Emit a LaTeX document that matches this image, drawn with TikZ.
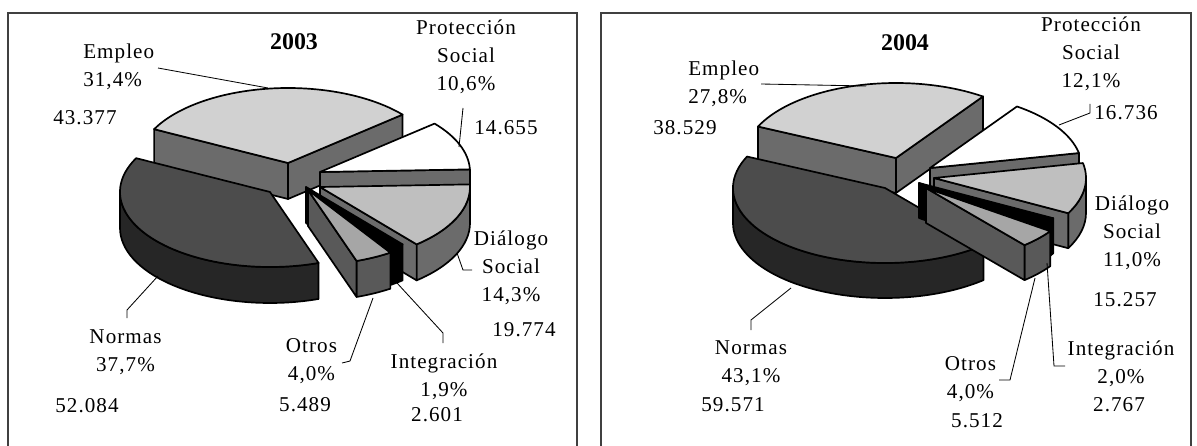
\documentclass[tikz,border=0pt]{standalone}
\usepackage{fontspec}
\setmainfont{Liberation Serif}
\newfontfamily\lblfont[LetterSpace=5]{Liberation Serif}
\usetikzlibrary{calc}

\definecolor{empTop}{gray}{0.82}
\definecolor{sideGray}{gray}{0.42}
\definecolor{normTop}{gray}{0.30}
\definecolor{normSide}{gray}{0.15}
\definecolor{dialTop}{gray}{0.75}
\definecolor{otrTop}{gray}{0.65}
\definecolor{otrSide}{gray}{0.35}
\definecolor{frameGray}{gray}{0.25}

\newcommand{\pierx}{150}
\newcommand{\piery}{75}
\newcommand{\pieh}{36}

% top face: apex, start, end, fill
\newcommand{\slicetop}[4]{%
  \filldraw[pie, fill=#4] (#1) -- ++({\pierx*cos(#2)},{\piery*sin(#2)})
    arc[start angle=#2, end angle=#3, x radius=\pierx, y radius=\piery] -- cycle;}
% cut face: apex, angle, fill
\newcommand{\sliceface}[3]{%
  \filldraw[pie, fill=#3] (#1) -- ++(0,-\pieh) -- ++({\pierx*cos(#2)},{\piery*sin(#2)})
    -- ++(0,\pieh) -- cycle;}
% outer rim: apex, from, to, fill
\newcommand{\slicerim}[4]{%
  \filldraw[pie, fill=#4] (#1) ++({\pierx*cos(#2)},{\piery*sin(#2)})
    arc[start angle=#2, end angle=#3, x radius=\pierx, y radius=\piery]
    -- ++(0,-\pieh)
    arc[start angle=#3, end angle=#2, x radius=\pierx, y radius=\piery] -- cycle;}

\begin{document}
\begin{tikzpicture}[
    x=0.025cm, y=0.025cm,
    lbl/.style   ={font=\lblfont\fontsize{15}{20}\selectfont, align=center, inner sep=0pt},
    title/.style ={font=\fontsize{17}{20}\selectfont\bfseries, inner sep=0pt},
    pie/.style   ={draw=black, line width=1.2pt, line join=round},
    leader/.style={draw=black, line width=0.6pt},
    frame/.style ={draw=frameGray, line width=0.9pt}
]
\useasboundingbox (0,0) rectangle (1197,-446);

%–––– FRAMES –––––––––––––––––––––––––––––––––––––––
\draw[frame] (8,-446) -- (8,-13) -- (577,-13) -- (577,-446);
\draw[frame] (601,-446) -- (601,-13) -- (1191,-13) -- (1191,-446);

%–––– 2003 PIE ––––––––––––––––––––––––––––––––––––
\coordinate (e03) at (288,-163);
\coordinate (p03) at (320,-172);
\coordinate (d03) at (320,-187);
\coordinate (n03) at (270,-192);
\coordinate (i03) at (306,-187);
\coordinate (o03) at (308,-190);

\sliceface{e03}{40.2}{sideGray}
\sliceface{e03}{153.2}{sideGray}
\slicetop{e03}{40.2}{153.2}{empTop}

\sliceface{p03}{2}{sideGray}
\slicetop{p03}{2}{40.2}{white}

\slicerim{d03}{310.1}{360}{sideGray}
\sliceface{d03}{310.1}{sideGray}
\slicetop{d03}{310.1}{362}{dialTop}

\slicerim{n03}{180}{288.9}{normSide}
\slicetop{n03}{153.2}{288.9}{normTop}

\slicerim{i03}{303.3}{310.1}{black}
\sliceface{i03}{303.3}{black}
\slicetop{i03}{303.3}{310.1}{black}

\slicerim{o03}{288.9}{303.3}{otrSide}
\sliceface{o03}{288.9}{otrSide}
\slicetop{o03}{288.9}{303.3}{otrTop}

%–––– 2003 LABELS –––––––––––––––––––––––––––––––––
\node[title] (tit03) at (294,-42) {2003};
\node[lbl, align=left, anchor=west] (emp03) at (83,-66.5) {Empleo\\31,4\%};
\node[lbl, anchor=west] (empv03) at (53,-118) {43.377};
\node[lbl] (pro03) at (466,-57) {Protección\\Social\\10,6\%};
\node[lbl] (prov03) at (506,-128) {14.655};
\node[lbl] (dia03) at (511,-268) {Diálogo\\Social\\14,3\%};
\node[lbl] (diav03) at (524,-330) {19.774};
\node[lbl] (nor03) at (125.5,-352) {Normas\\37,7\%};
\node[lbl] (norv03) at (87,-406) {52.084};
\node[lbl] (otr03) at (311.5,-361.5) {Otros\\4,0\%};
\node[lbl] (otrv03) at (305,-405) {5.489};
\node[lbl] (int03) at (444,-377) {Integración\\1,9\%};
\node[lbl] (intv03) at (437,-415) {2.601};

% leader lines
\coordinate (empA03) at (158,-68);   \coordinate (empB03) at (268,-88);
\coordinate (proA03) at (463,-108);  \coordinate (proB03) at (459,-147);
\coordinate (diaA03) at (472,-270);  \coordinate (diaK03) at (463,-270);
\coordinate (diaB03) at (457,-253);
\coordinate (norA03) at (127,-318);  \coordinate (norK03) at (127,-310);
\coordinate (norB03) at (158,-276);
\coordinate (otrA03) at (342,-363);  \coordinate (otrK03) at (350,-361);
\coordinate (otrB03) at (373,-298);
\coordinate (intA03) at (443,-343);  \coordinate (intK03) at (443,-333);
\coordinate (intB03) at (397,-283);

\draw[leader] (empA03) -- (empB03);
\draw[leader] (proA03) -- (proB03);
\draw[leader] (diaA03) -- (diaK03) -- (diaB03);
\draw[leader] (norA03) -- (norK03) -- (norB03);
\draw[leader] (otrA03) -- (otrK03) -- (otrB03);
\draw[leader] (intA03) -- (intK03) -- (intB03);

%–––– 2004 PIE ––––––––––––––––––––––––––––––––––––
\renewcommand{\pierx}{152}
\renewcommand{\pieh}{35}
\coordinate (e04) at (896,-158);
\coordinate (p04) at (930,-168);
\coordinate (d04) at (934,-178);
\coordinate (n04) at (885,-188);
\coordinate (i04) at (919,-183);
\coordinate (o04) at (926,-188);

\sliceface{e04}{55.1}{sideGray}
\sliceface{e04}{155.2}{sideGray}
\slicetop{e04}{55.1}{155.2}{empTop}

\sliceface{p04}{11.5}{sideGray}
\slicetop{p04}{11.5}{55.1}{white}

\slicerim{d04}{332}{360}{sideGray}
\sliceface{d04}{332}{sideGray}
\slicetop{d04}{332}{371.5}{dialTop}

\slicerim{n04}{180}{310.4}{normSide}
\slicetop{n04}{155.2}{310.4}{normTop}

\slicerim{i04}{324.8}{332}{black}
\sliceface{i04}{324.8}{black}
\slicetop{i04}{324.8}{332}{black}

\slicerim{o04}{310.4}{324.8}{otrSide}
\sliceface{o04}{310.4}{otrSide}
\slicetop{o04}{310.4}{324.8}{otrTop}

%–––– 2004 LABELS –––––––––––––––––––––––––––––––––
\node[title] (tit04) at (905,-43) {2004};
\node[lbl, align=left, anchor=west] (emp04) at (688,-83.5) {Empleo\\27,8\%};
\node[lbl, anchor=west] (empv04) at (653,-128) {38.529};
\node[lbl] (pro04) at (1091,-54) {Protección\\Social\\12,1\%};
\node[lbl] (prov04) at (1126,-113) {16.736};
\node[lbl] (dia04) at (1132,-233) {Diálogo\\Social\\11,0\%};
\node[lbl] (diav04) at (1125,-300) {15.257};
\node[lbl] (nor04) at (751,-363) {Normas\\43,1\%};
\node[lbl] (norv04) at (733,-405) {59.571};
\node[lbl] (otr04) at (970.5,-379) {Otros\\4,0\%};
\node[lbl] (otrv04) at (977,-421) {5.512};
\node[lbl] (int04) at (1121,-364) {Integración\\2,0\%};
\node[lbl] (intv04) at (1119,-405) {2.767};

% leader lines
\coordinate (empA04) at (761,-84);   \coordinate (empB04) at (866,-86);
\coordinate (proA04) at (1090,-104); \coordinate (proK04) at (1090,-113);
\coordinate (proB04) at (1059,-125);
\coordinate (norA04) at (751,-330);  \coordinate (norK04) at (751,-320);
\coordinate (norB04) at (791,-288);
\coordinate (otrA04) at (999,-380);  \coordinate (otrK04) at (1010,-380);
\coordinate (otrB04) at (1035,-278);
\coordinate (intA04) at (1065,-366); \coordinate (intK04) at (1054,-366);
\coordinate (intB04) at (1047,-263);

\draw[leader] (empA04) -- (empB04);
\draw[leader] (proA04) -- (proK04) -- (proB04);
\draw[leader] (norA04) -- (norK04) -- (norB04);
\draw[leader] (otrA04) -- (otrK04) -- (otrB04);
\draw[leader] (intA04) -- (intK04) -- (intB04);
\end{tikzpicture}
\end{document}
